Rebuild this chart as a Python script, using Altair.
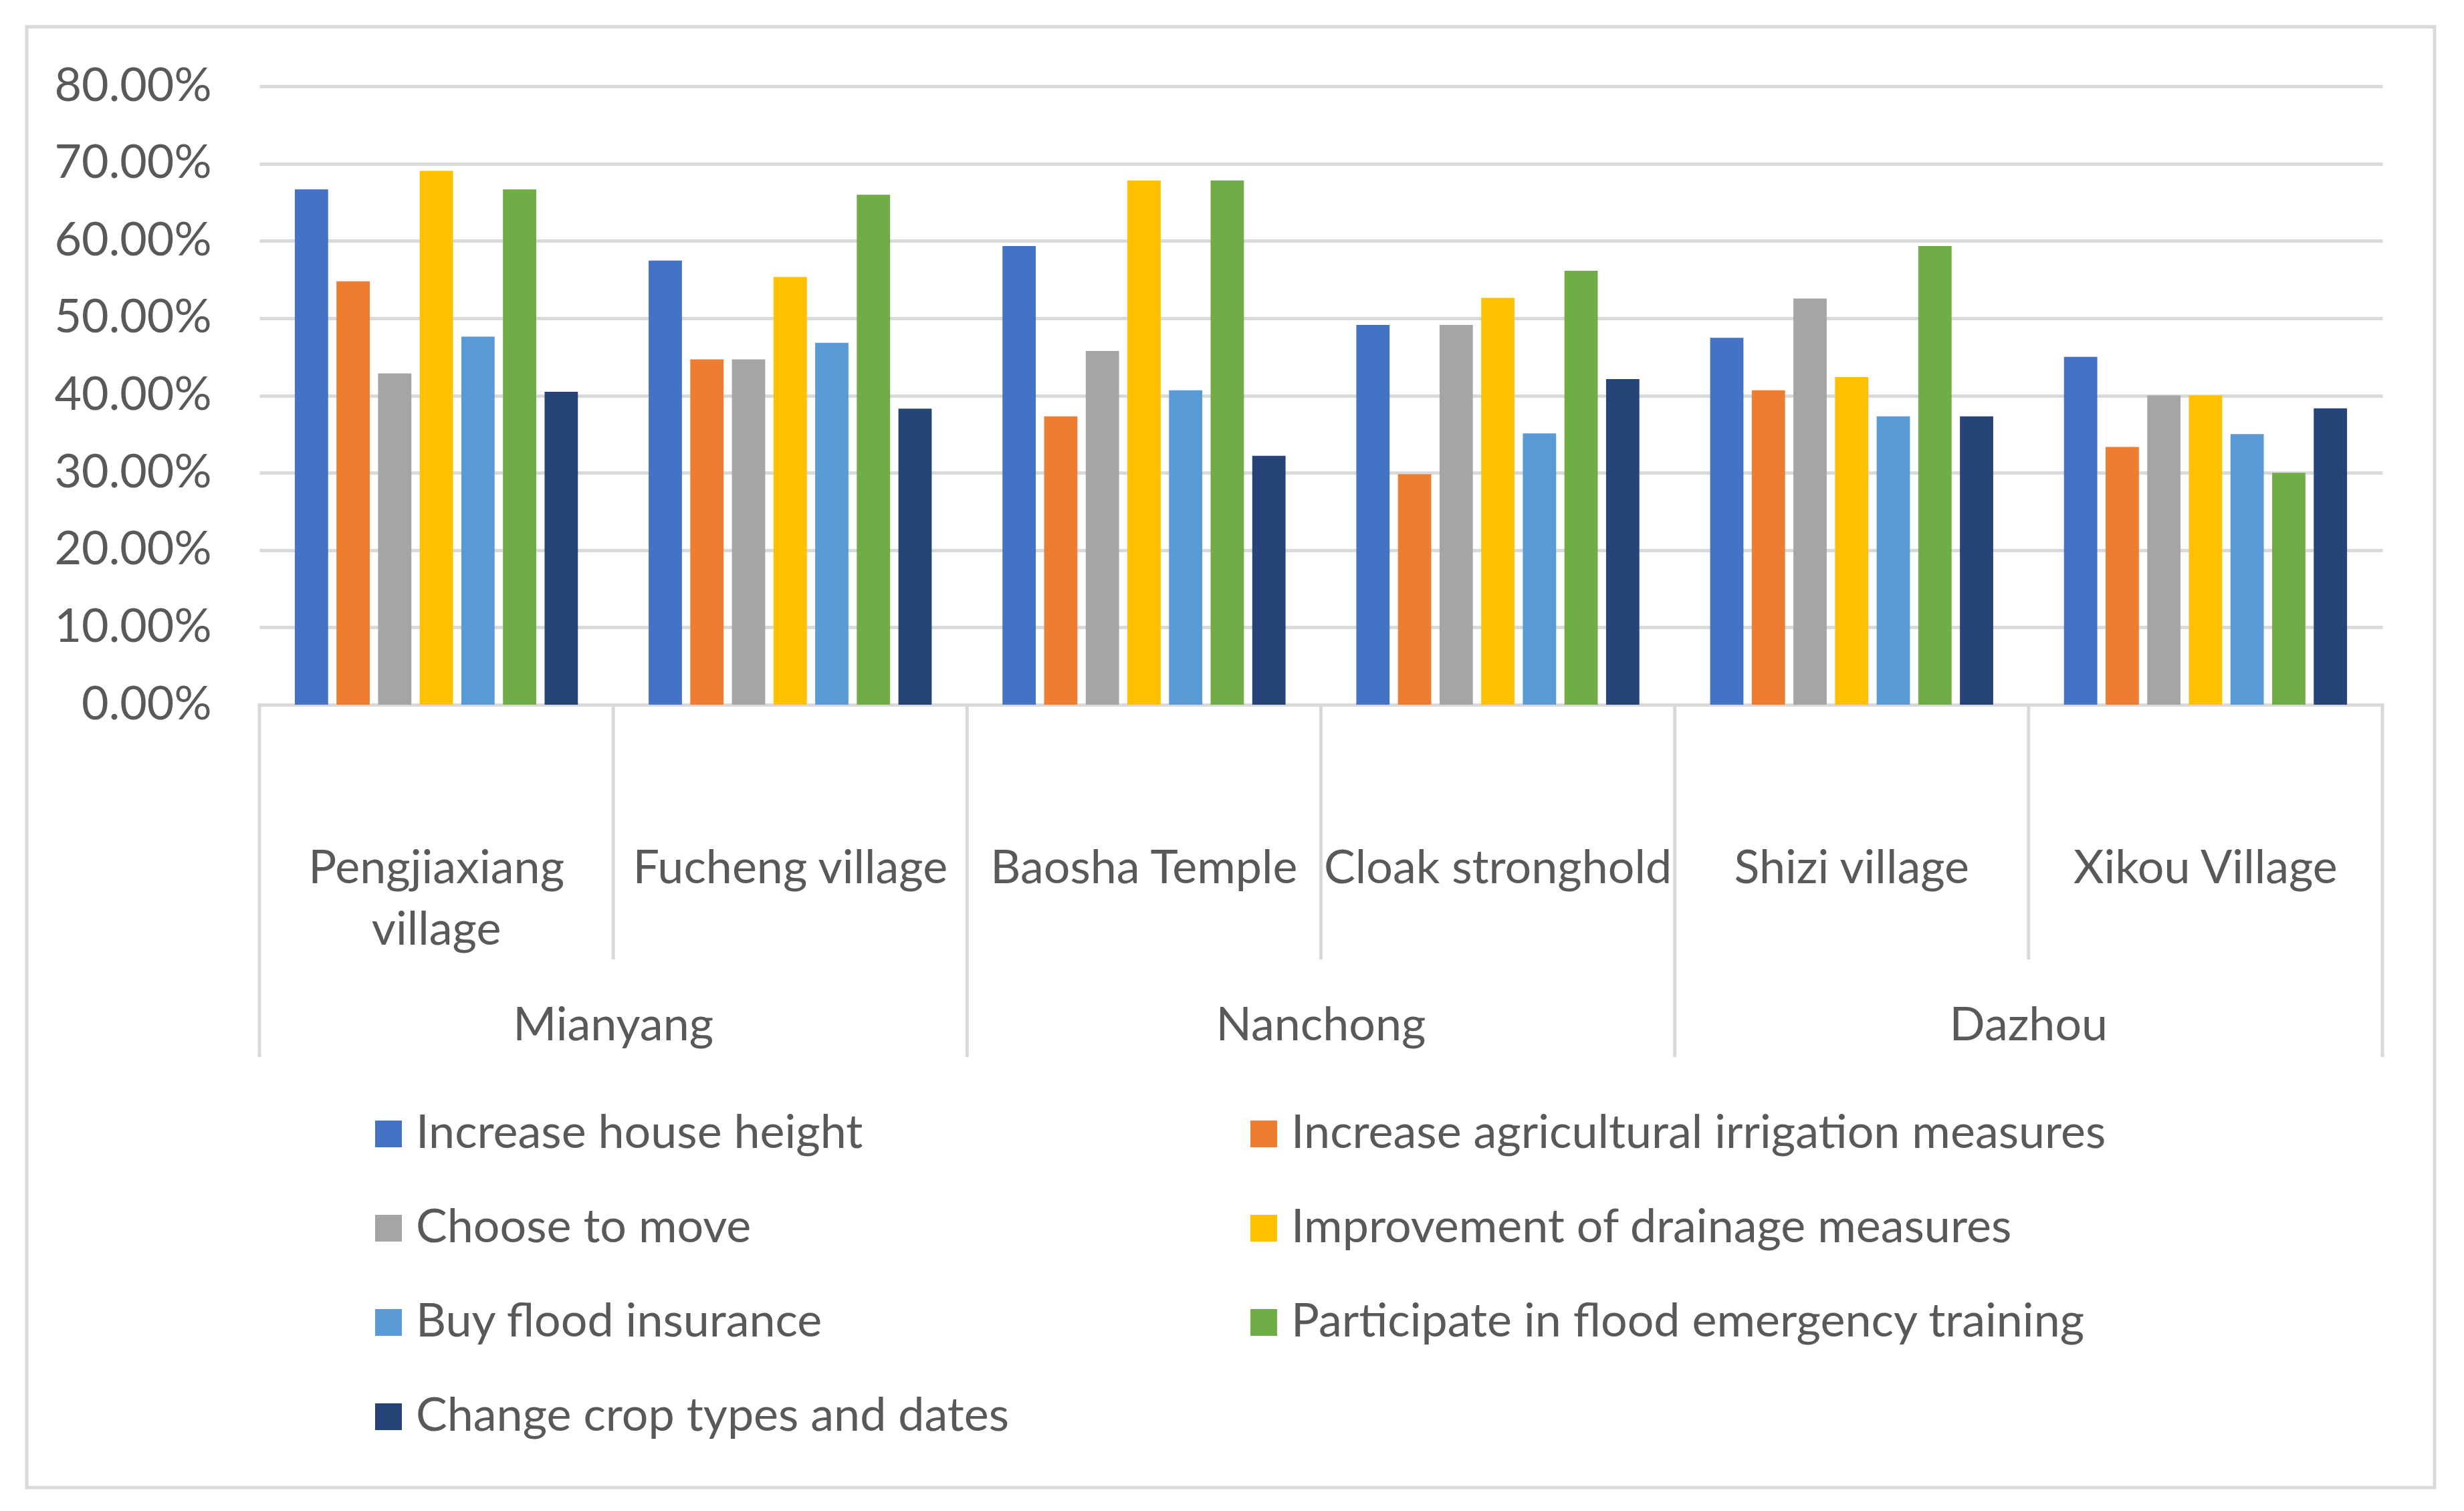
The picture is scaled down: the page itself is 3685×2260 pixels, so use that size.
import pandas as pd
import altair as alt

# Hierarchical categories: region -> village
regions = ["Mianyang", "Mianyang", "Nanchong", "Nanchong", "Dazhou", "Dazhou"]
villages = ["Pengjiaxiang village", "Fucheng village", "Baosha Temple",
            "Cloak stronghold", "Shizi village", "Xikou Village"]
village_labels = ["Pengjiaxiang\nvillage", "Fucheng village", "Baosha Temple",
                  "Cloak stronghold", "Shizi village", "Xikou Village"]

measures = ["Increase house height",
            "Increase agricultural irrigation measures",
            "Choose to move",
            "Improvement of drainage measures",
            "Buy flood insurance",
            "Participate in flood emergency training",
            "Change crop types and dates"]
colors = ["#4472C4", "#ED7D31", "#A5A5A5", "#FFC000", "#5B9BD5", "#70AD47", "#264478"]

# share of respondents per measure, in village order
increase_house_height = [0.6667, 0.5745, 0.5932, 0.4912, 0.4746, 0.4500]
increase_irrigation = [0.5476, 0.4468, 0.3729, 0.2982, 0.4068, 0.3333]
choose_to_move = [0.4286, 0.4468, 0.4576, 0.4912, 0.5254, 0.4000]
improve_drainage = [0.6905, 0.5532, 0.6780, 0.5263, 0.4237, 0.4000]
flood_insurance = [0.4762, 0.4681, 0.4068, 0.3509, 0.3729, 0.3500]
emergency_training = [0.6667, 0.6596, 0.6780, 0.5614, 0.5932, 0.3000]
change_crops = [0.4048, 0.3830, 0.3220, 0.4211, 0.3729, 0.3833]

y_ticks = [0.0, 0.1, 0.2, 0.3, 0.4, 0.5, 0.6, 0.7, 0.8]

series = [increase_house_height, increase_irrigation, choose_to_move,
          improve_drainage, flood_insurance, emergency_training, change_crops]

rows = []
for m, vals in zip(measures, series):
    for v, s in zip(villages, vals):
        rows.append({"village": v, "measure": m, "share": s})
df = pd.DataFrame(rows)

labels_df = pd.DataFrame({"village": villages, "label": village_labels})
region_order = list(dict.fromkeys(regions))
regions_df = pd.DataFrame({"region": region_order})

# separator positions (in village units) for the two-level category axis
village_edges, region_edges = [], [0]
for i in range(1, len(villages)):
    if regions[i] == regions[i - 1]:
        village_edges.append(i)
    else:
        region_edges.append(i)
region_edges.append(len(villages))
vedge_df = pd.DataFrame({"edge": village_edges})
redge_df = pd.DataFrame({"edge": region_edges})

W, H = 3175, 925
FONT = "Lato"
FS = 70
TEXT = "#595959"
GRID = "#D9D9D9"

bars = alt.Chart(df).mark_bar().encode(
    x=alt.X("village:N", sort=villages, axis=None,
            scale=alt.Scale(paddingInner=0.2, paddingOuter=0.1)),
    xOffset=alt.XOffset("measure:N", sort=measures,
                        scale=alt.Scale(paddingInner=0.2, paddingOuter=0)),
    y=alt.Y("share:Q", scale=alt.Scale(domain=[0, 0.8]),
            axis=alt.Axis(format=".2%", values=y_ticks, title=None, domain=False,
                          ticks=False, labelFontSize=FS, labelFont=FONT,
                          labelColor=TEXT, labelPadding=72, labelLimit=1000,
                          gridColor=GRID, gridWidth=5)),
    color=alt.Color("measure:N", sort=measures,
                    scale=alt.Scale(domain=measures, range=colors),
                    legend=alt.Legend(orient="none", legendX=158, legendY=1532,
                                      direction="horizontal", columns=2,
                                      title=None, symbolType="square",
                                      symbolSize=1600, symbolStrokeWidth=0,
                                      symbolOpacity=1, labelFontSize=FS,
                                      labelFont=FONT, labelColor=TEXT,
                                      labelOffset=6, labelLimit=3000,
                                      rowPadding=141 - FS, columnPadding=345))
)

x_edge = alt.X("edge:Q", axis=None,
               scale=alt.Scale(domain=[0, len(villages)], nice=False, zero=False))

village_rules = alt.Chart(vedge_df).mark_rule(color=GRID, strokeWidth=5).encode(
    x=x_edge, y=alt.value(H), y2=alt.value(1306))
region_rules = alt.Chart(redge_df).mark_rule(color=GRID, strokeWidth=5).encode(
    x=x_edge, y=alt.value(H - 2), y2=alt.value(1452))

village_text = alt.Chart(labels_df).mark_text(
    font=FONT, fontSize=FS, color=TEXT, baseline="alphabetic",
    lineBreak="\n", lineHeight=92).encode(
    x=alt.X("village:N", sort=villages, axis=None),
    y=alt.value(1192), text="label:N")

region_text = alt.Chart(regions_df).mark_text(
    font=FONT, fontSize=FS, color=TEXT, baseline="alphabetic").encode(
    x=alt.X("region:N", sort=region_order, axis=None),
    y=alt.value(1427), text="region:N")

border = alt.Chart(pd.DataFrame({"k": [0]})).mark_rect(
    filled=False, stroke=GRID, strokeWidth=5).encode(
    x=alt.value(-348), x2=alt.value(3253), y=alt.value(-89), y2=alt.value(2096))

chart = alt.layer(
    border, bars, village_rules, region_rules, village_text, region_text
).resolve_scale(x="independent").properties(
    width=W, height=H,
    autosize=alt.AutoSizeParams(type="none"),
    padding={"left": 380, "top": 121, "right": 110, "bottom": 1190},
    background="white"
).configure_view(strokeWidth=0)

chart.save("out.html", embed_options={"renderer": "svg", "actions": False})
